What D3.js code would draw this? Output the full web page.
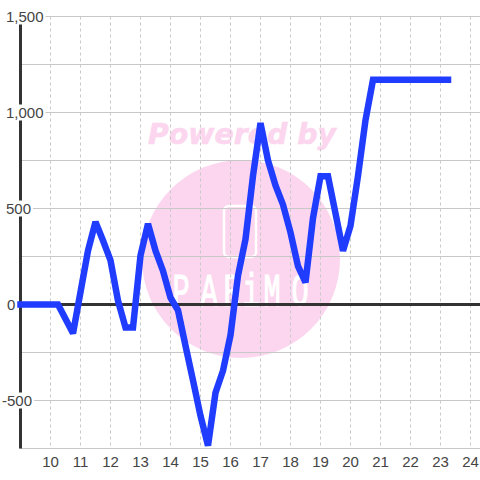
<!DOCTYPE html>
<html><head><meta charset="utf-8">
<script src="https://cdn.jsdelivr.net/npm/d3@7/dist/d3.min.js"></script>
<style>html,body{margin:0;padding:0;background:#fff}svg{display:block}</style>
</head><body><svg id="c" width="480" height="480"></svg>
<script>
const hoursA = [9,9.25,9.5,9.75,10,10.25];
const valuesA = [0,0,0,0,0,0];
const hoursB = [10.75,11.25,11.5,11.75,12,12.25,12.5,12.75,13,13.25,13.5,13.75,14,14.25,14.5,14.75,15,15.25,15.5,15.75,16,16.25,16.5,16.75,17,17.25,17.5,17.75,18,18.25,18.5,18.75,19,19.25,19.5,19.75,20,20.25,20.5,20.75,23.25];
const valuesB = [-150,280,430,333,230,20,-120,-120,255,420,280,175,35,-30,-215,-395,-580,-735,-460,-345,-160,150,340,670,945,750,620,520,375,200,115,450,668,668,475,280,410,670,960,1170,1170];
const xTicks = d3.range(10,25);
const yLabelTicks = [-500,0,500,1000,1500];
const yGridTicks = [-750,-500,-250,250,500,750,1000,1250,1500];
const watermarkTop = "Powered by";
const logoLetters = ["P","A","R","i","M","O"];
const logoCenters = [181,209,232,251,272,300];

const svg = d3.select("#c");
const x = d3.scaleLinear().domain([9,24]).range([20.5,470.5]);
const y = d3.scaleLinear().domain([-750,1500]).range([448.5,16.5]);
const pink = "#fbd6ee", ink = "#333333", grid = "#c8c8c8";

// watermark
svg.append("text").attr("x",242).attr("y",144).attr("text-anchor","middle")
  .attr("font-family","DejaVu Sans").attr("font-weight","bold").attr("font-style","italic")
  .attr("font-size",28.4).attr("fill",pink).attr("stroke",pink).attr("stroke-width",0.6).text(watermarkTop);
svg.append("circle").attr("cx",241).attr("cy",259).attr("r",99).attr("fill",pink);
svg.append("rect").attr("x",224).attr("y",206).attr("width",32).attr("height",51).attr("rx",5)
  .attr("fill","none").attr("stroke","#fff").attr("stroke-width",2.5);
svg.append("g").selectAll("text").data(logoLetters).join("text")
  .attr("transform",(d,i)=>`translate(${logoCenters[i]},306) scale(0.62,1)`)
  .attr("text-anchor","middle").attr("font-family","Liberation Mono").attr("font-size",46)
  .attr("fill","#fff").attr("stroke","#fff").attr("stroke-width",1.2).text(d=>d);

// grid
svg.append("g").selectAll("line").data(yGridTicks).join("line")
  .attr("x1",20).attr("x2",480).attr("y1",d=>y(d)).attr("y2",d=>y(d))
  .attr("stroke",grid).attr("stroke-width",1);
svg.append("g").selectAll("line").data(xTicks).join("line")
  .attr("x1",d=>x(d)).attr("x2",d=>x(d)).attr("y1",y(1500)).attr("y2",y(-750))
  .attr("stroke",grid).attr("stroke-width",1).attr("stroke-dasharray","3,3");

// axes
svg.append("line").attr("x1",x(9)).attr("x2",x(9)).attr("y1",y(1500)).attr("y2",y(-750))
  .attr("stroke",ink).attr("stroke-width",3);
svg.append("line").attr("x1",x(9)).attr("x2",480).attr("y1",y(0)).attr("y2",y(0))
  .attr("stroke",ink).attr("stroke-width",3);

// y labels with white background
const fmt = d3.formatLocale({decimal:".",thousands:",",grouping:[3],currency:["",""],minus:"-"}).format(",");
const yl = svg.append("g").selectAll("g").data(yLabelTicks).join("g");
yl.each(function(d){
  const g = d3.select(this);
  const px = d<0?2:(d===0?7:6);
  const t = g.append("text").attr("x",px).attr("y",y(d)+5)
    .attr("font-family","Liberation Sans").attr("font-size",15).attr("fill","#444").text(fmt(d));
  const b = t.node().getBBox();
  g.insert("rect","text").attr("x",b.x-1).attr("y",y(d)-8).attr("width",b.width+3).attr("height",16).attr("fill","#fff");
});
svg.append("g").selectAll("text").data(xTicks).join("text")
  .attr("x",d=>x(d)).attr("y",466.5).attr("text-anchor","middle")
  .attr("font-family","Liberation Sans").attr("font-size",15).attr("fill","#444").text(d=>d);

// series
const pts = hoursA.map((h,i)=>[h,valuesA[i]]).concat(hoursB.map((h,i)=>[h,valuesB[i]]));
svg.append("path").attr("d",d3.line().x(d=>x(d[0])).y(d=>y(d[1]))(pts))
  .attr("fill","none").attr("stroke","#1f3cff").attr("stroke-width",6.5)
  .attr("stroke-linecap","square").attr("stroke-linejoin","miter").attr("stroke-miterlimit",2);
</script></body></html>
